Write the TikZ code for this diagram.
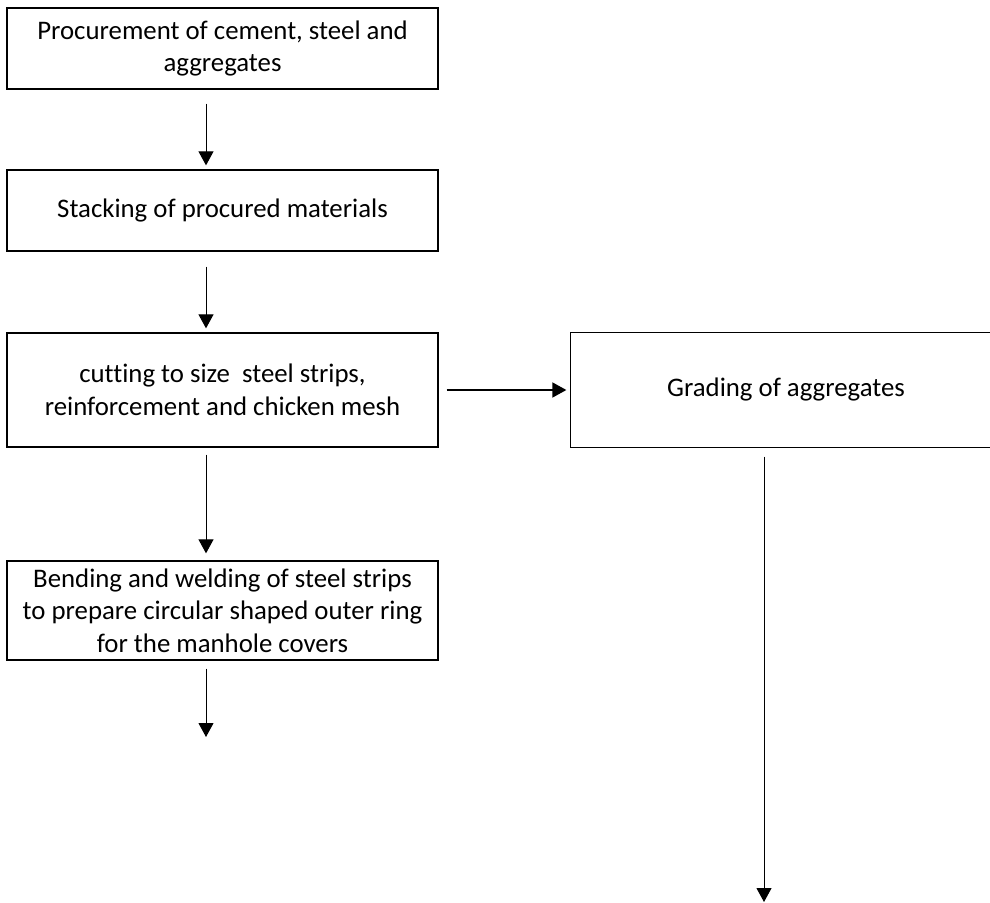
\documentclass[tikz,border=0pt]{standalone}
\usepackage{fontspec}
\setmainfont{Carlito}[Ligatures=NoCommon]
\usetikzlibrary{positioning,calc,arrows.meta}
\tikzset{
stage/.style={
  draw,
  line width=0.65pt,
  rectangle,
  align=center,
  minimum width=215.5pt,
  inner sep=2pt,
  font=\fontsize{13.4}{16.3}\selectfont
  },
flow/.style={-{Triangle[width=7.5pt,length=7pt]}, line width=0.5pt},
}

\begin{document}
\begin{tikzpicture}[x=0.5pt,y=-0.5pt]
    \useasboundingbox (0,0) rectangle (990,903);
    \clip (0,0) rectangle (990,903);
    \node [stage, minimum height=40.5pt] (procure) at (222.5,48.5)
        {Procurement of cement, steel and\\aggregates};
    \node [stage, minimum height=40.5pt] (stack) at (222.5,210.5)
        {Stacking of procured materials};
    \node [stage, minimum height=57pt] (cut) at (222.5,390)
        {cutting to size\ \ steel strips,\\reinforcement and chicken mesh};
    \node [stage, draw=none, minimum height=57pt, minimum width=215pt] (grade) at (786,390)
        {Grading of aggregates};
    % box runs off the right edge
    \draw [line width=0.65pt] ([xshift=20pt]grade.north east) -- (grade.north west)
        -- (grade.south west) -- ([xshift=20pt]grade.south east);
    \node [stage, minimum height=49.5pt] (weld) at (222.5,610.5)
        {Bending and welding of steel strips\\to prepare circular shaped outer ring\\for the manhole covers};
    \coordinate (weldend) at (206,737);
    \coordinate (gradeend) at (764,902);

    \draw [flow, shorten <=7pt, shorten >=2pt] ([xshift=-8.25pt]procure.south) -- ([xshift=-8.25pt]stack.north);
    \draw [flow, shorten <=7.5pt, shorten >=2pt] ([xshift=-8.25pt]stack.south) -- ([xshift=-8.25pt]cut.north);
    \draw [flow, shorten <=3.5pt, shorten >=3.5pt] ([xshift=-8.25pt]cut.south) -- ([xshift=-8.25pt]weld.north);
    \draw [flow, line width=0.9pt, shorten <=4pt, shorten >=2pt] (cut.east) -- (grade.west);
    \draw [flow, shorten <=4pt] ([xshift=-8.25pt]weld.south) -- (weldend);
    \draw [flow, shorten <=4.5pt] ([xshift=-11pt]grade.south) -- (gradeend);
\end{tikzpicture}
\end{document}
